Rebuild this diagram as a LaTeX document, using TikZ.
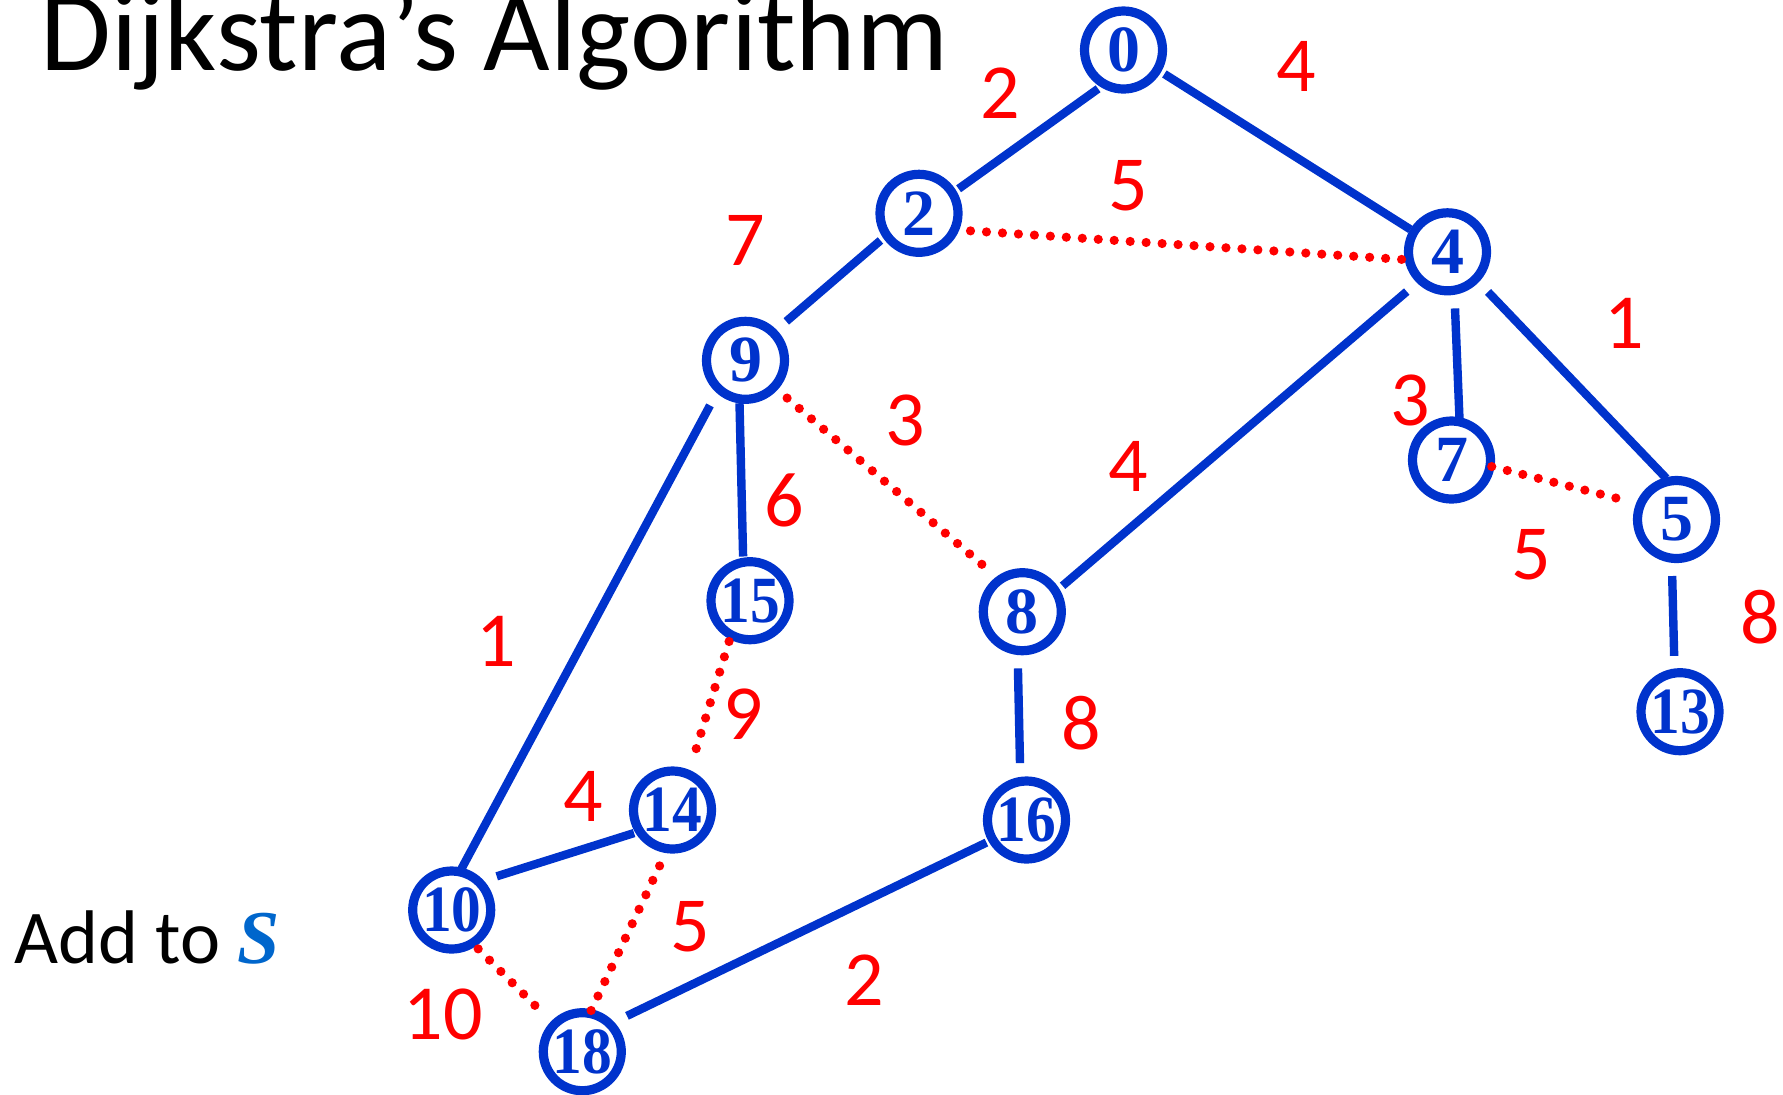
\documentclass[tikz,border=0pt]{standalone}
\usepackage{fontspec}
\setmainfont{Carlito}
\newfontfamily\nodefont{Liberation Serif}
\definecolor{myblue}{RGB}{0,51,204}
\definecolor{myred}{RGB}{255,0,0}
\definecolor{sblue}{RGB}{0,102,204}
\begin{document}
\begin{tikzpicture}[x=0.5pt,y=-0.5pt,
  vtx/.style={circle, draw=myblue, line width=4.6pt, minimum size=39pt, inner sep=0pt, outer sep=0pt, text=myblue, font=\nodefont\bfseries\fontsize{33}{33}\selectfont},
  edge/.style={draw=myblue, line width=4.2pt},
  dotedge/.style={draw=myred, line width=4.6pt, line cap=round, dash pattern=on 0pt off 8pt},
  wlabel/.style={text=myred, font=\fontsize{39}{39}\selectfont, inner sep=0pt},
  plain/.style={anchor=base west, inner sep=0pt}]
\useasboundingbox (0,0) rectangle (1783,1094);
\node[plain, font=\fontsize{57.5}{57.5}\selectfont] (title) at (40,70.5) {Dijkstra’s Algorithm};
\node[plain, font=\fontsize{38}{38}\selectfont] (add) at (14,963) {Add to {\color{sblue}\nodefont\bfseries\itshape S}};
% vertices
\node[vtx] (n0) at (1123.5,50) {0};
\node[vtx] (n2) at (919,213.3) {2};
\node[vtx] (n4) at (1447.5,251.8) {4};
\node[vtx] (n9) at (745.5,360.3) {9};
\node[vtx] (n7) at (1451.5,460) {7};
\node[vtx] (n5) at (1676.5,519.5) {5};
\node[vtx] (n15) at (750,600.7) {\scalebox{0.9}[1]{15}};
\node[vtx] (n8) at (1022.3,611.7) {8};
\node[vtx] (n13) at (1680,711.7) {\scalebox{0.9}[1]{13}};
\node[vtx] (n14) at (672.5,810) {\scalebox{0.9}[1]{14}};
\node[vtx] (n16) at (1026.5,820) {\scalebox{0.9}[1]{16}};
\node[vtx] (n10) at (451.7,910) {\scalebox{0.9}[1]{10}};
\node[vtx] (n18) at (582.3,1051.7) {\scalebox{0.9}[1]{18}};
% solid edges
\draw[edge, shorten <=4pt, shorten >=3.8pt] (n0.241) -- (n2.31.7);
\draw[edge, shorten <=4.2pt, shorten >=2.2pt] (n0.-30.3) -- (n4.149.5);
\draw[edge, shorten <=4.1pt, shorten >=8.7pt] (n2.214.4) -- (n9.45.6);
\draw[edge, shorten <=9.1pt, shorten >=1.7pt] (n4.-80.8) -- (n7.78.4);
\draw[edge, shorten <=9pt, shorten >=2pt] (n4.-44.4) -- (n5.101);
\draw[edge, shorten <=9pt, shorten >=4.5pt] (n4.226.6) -- (n8.31.4);
\draw[edge, shorten <=2.2pt, shorten >=2.9pt] (n9.261.8) -- (n15.100.7);
\draw[edge, shorten <=9.4pt, shorten >=1.7pt] (n9.227.9) -- (n10.78.7);
\draw[edge, shorten <=9pt, shorten >=9.2pt] (n8.263.3) -- (n16.99.2);
\draw[edge, shorten <=9.4pt, shorten >=3pt] (n10.46.2) -- (n14.213.7);
\draw[edge, shorten <=3.5pt, shorten >=9.5pt] (n16.210.3) -- (n18.45);
\draw[edge, shorten <=8.9pt, shorten >=8.6pt] (n5.263.4) -- (n13.98.5);
% dotted edges
\draw[dotedge, shorten <=8.1pt] (n2.-25.4) -- (n4.192.8);
\draw[dotedge, shorten <=8.6pt, shorten >=9.6pt] (n9.-43.9) -- (n8.125.6);
\draw[dotedge, shorten <=0.9pt, shorten >=11.5pt] (n7.-9.5) -- (n5.157.8);
\draw[dotedge, shorten <=3.5pt, shorten >=12.6pt] (n15.241) -- (n14.66.9);
\draw[dotedge, shorten <=9.5pt, shorten >=0.8pt] (n14.263.6) -- (n18.79.1);
\draw[dotedge, shorten <=4.1pt, shorten >=13.1pt] (n10.302) -- (n18.136.4);
% weights
\node[wlabel] (w02) at (1000.6,93.2) {2};
\node[wlabel] (w04) at (1296.3,66) {4};
\node[wlabel] (w24) at (1128,185.3) {5};
\node[wlabel] (w29) at (744.8,240) {7};
\node[wlabel] (w45) at (1623.8,323) {1};
\node[wlabel] (w47) at (1410,400) {3};
\node[wlabel] (w98) at (905,420.7) {3};
\node[wlabel] (w48) at (1128,466.2) {4};
\node[wlabel] (w915) at (784.6,500.3) {6};
\node[wlabel] (w75) at (1531.5,555) {5};
\node[wlabel] (w513) at (1760,617) {8};
\node[wlabel] (w910) at (495.8,641.3) {1};
\node[wlabel] (w1514) at (743.7,714) {9};
\node[wlabel] (w816) at (1081.4,723.2) {8};
\node[wlabel] (w1014) at (583.3,796) {4};
\node[wlabel] (w1418) at (690.2,926.7) {5};
\node[wlabel] (w1618) at (864.2,980.2) {2};
\node[wlabel] (w1018) at (443.5,1014.3) {10};
\end{tikzpicture}
\end{document}
